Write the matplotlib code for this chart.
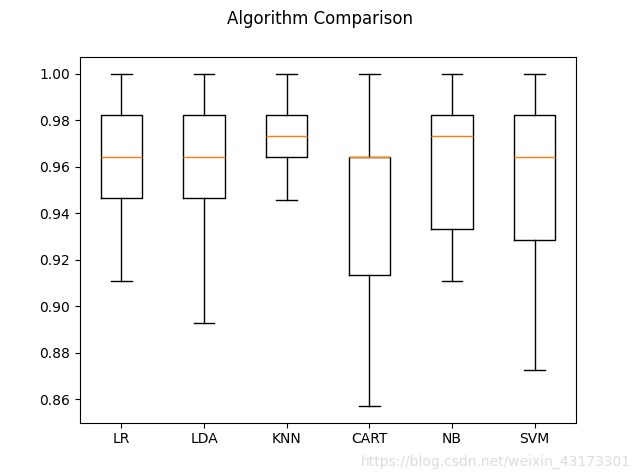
import matplotlib
matplotlib.use("Agg")
import matplotlib.pyplot as plt

names = ["LR", "LDA", "KNN", "CART", "NB", "SVM"]
whislo = [0.9107, 0.8929, 0.9455, 0.8571, 0.9107, 0.8727]
q1 = [0.9464, 0.9464, 0.9643, 0.9136, 0.9333, 0.9286]
med = [0.9643, 0.9643, 0.9732, 0.9643, 0.9732, 0.9643]
q3 = [0.9821, 0.9821, 0.9821, 0.9643, 0.9821, 0.9821]
whishi = [1.0, 1.0, 1.0, 1.0, 1.0, 1.0]

stats = [
    dict(label=n, whislo=a, q1=b, med=c, q3=d, whishi=e, fliers=[])
    for n, a, b, c, d, e in zip(names, whislo, q1, med, q3, whishi)
]

fig = plt.figure(figsize=(6.4, 4.75), dpi=100)
fig.suptitle("Algorithm Comparison")
ax = fig.add_subplot(111)
ax.bxp(stats)
fig.text(0.985, 0.012, "https://blog.csdn.net/weixin_43173301", ha="right",
         va="bottom", color="#dddddd", fontsize=10)
fig.savefig("out.png", dpi=100)
